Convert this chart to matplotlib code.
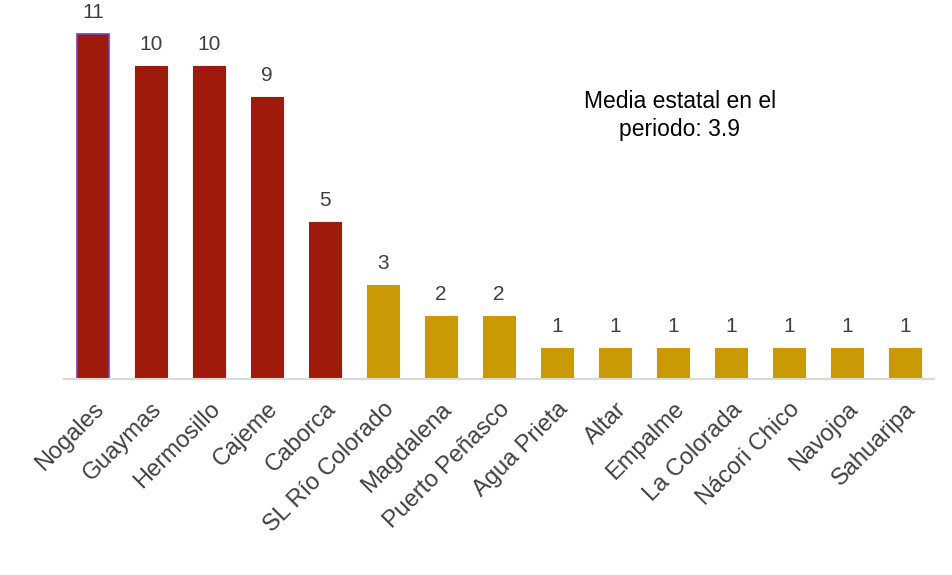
import matplotlib
matplotlib.use("Agg")
import matplotlib.pyplot as plt
import numpy as np

plt.rcParams["font.family"] = ["Liberation Sans", "DejaVu Sans"]

# ── data ────────────────────────────────────────────────────────────────────
municipios = [
    "Nogales", "Guaymas", "Hermosillo", "Cajeme", "Caborca", "SL Río Colorado",
    "Magdalena", "Puerto Peñasco", "Agua Prieta", "Altar", "Empalme",
    "La Colorada", "Nácori Chico", "Navojoa", "Sahuaripa",
]
casos = [11, 10, 10, 9, 5, 3, 2, 2, 1, 1, 1, 1, 1, 1, 1]
media_estatal = 3.9

RED = "#9E1A0A"
GOLD = "#C99A06"

colors = [RED if v > media_estatal else GOLD for v in casos]

fig = plt.figure(figsize=(9.53, 5.75), dpi=100)
ax = fig.add_axes([0.067, 0.341, 0.913, 0.654])

x = np.arange(len(municipios))
bars = ax.bar(x, casos, width=0.54, color=colors, edgecolor=colors, linewidth=0.8)
bars[0].set_edgecolor("#7B3FB5")
bars[0].set_linewidth(1.2)

for xi, v in zip(x, casos):
    ax.text(xi, v + 0.38, f"{v}", ha="center", va="bottom", fontsize=15, color="#404040")

ax.text(0.708, 0.70, f"Media estatal en el\nperiodo: {media_estatal}", transform=ax.transAxes,
        ha="center", va="center", fontsize=16.5, color="black", linespacing=1.3)

ax.set_xlim(-0.5, len(municipios) - 0.5)
ax.set_ylim(0, 12)
ax.set_xticks(x)
ax.set_xticklabels(municipios, rotation=45, ha="right", rotation_mode="anchor",
                   fontsize=17, color="#404040")
ax.tick_params(axis="x", length=0, pad=14)
ax.set_yticks([])
for s in ["top", "right", "left"]:
    ax.spines[s].set_visible(False)
ax.spines["bottom"].set_color("#D9D9D9")
ax.spines["bottom"].set_linewidth(1.5)

fig.savefig("out.png", dpi=100)
